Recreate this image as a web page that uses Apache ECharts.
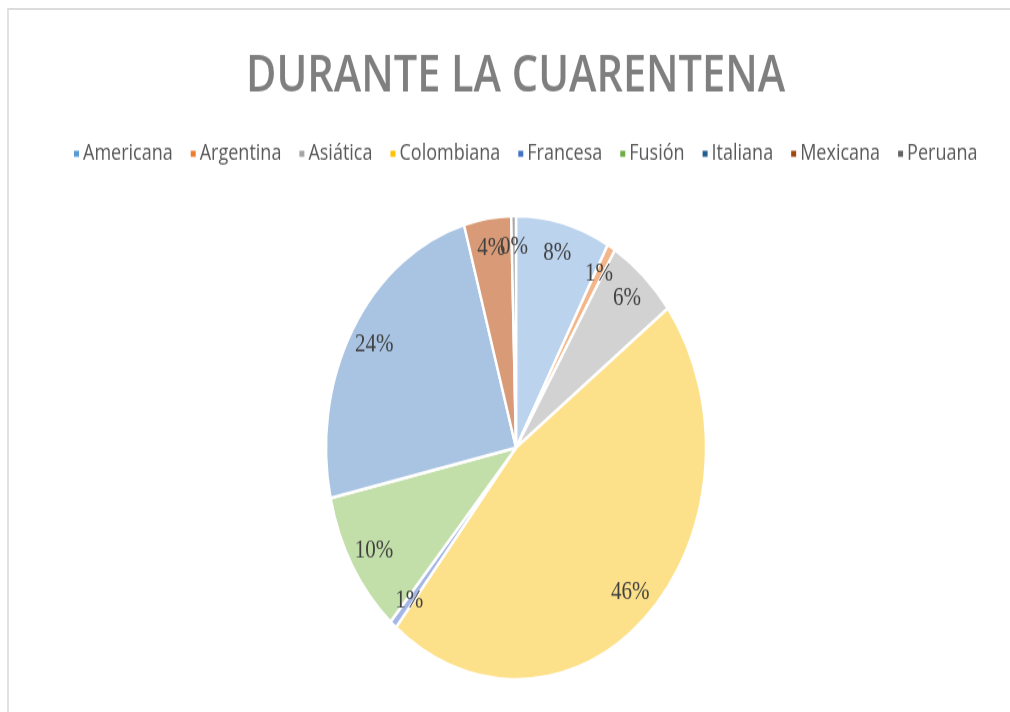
<!DOCTYPE html>
<html>
<head>
<meta charset="utf-8">
<script src="https://cdn.jsdelivr.net/npm/echarts@6/dist/echarts.min.js"></script>
<style>
  html, body { margin: 0; padding: 0; background: #fff; }
  #frame { position: absolute; left: 7px; top: 8px; width: 1010px; height: 720px; z-index: 2;
           border-top: 2px solid #dcdcdc; border-left: 2px solid #e2e2e2; box-sizing: border-box; pointer-events: none; }
  #chart { position: absolute; left: 0; top: 0; width: 1010px; height: 584px;
           transform: scaleY(1.22); transform-origin: 0 0; }
</style>
</head>
<body>
<div id="frame"></div>
<div id="chart"></div>
<script>
  // datos (porcentajes)
  let categorias = ["Americana", "Argentina", "Asiática", "Colombiana", "Francesa", "Fusión", "Italiana", "Mexicana", "Peruana"];
  let valores = [8, 0.7, 6, 46, 0.6, 10, 24, 4, 0.4];
  let coloresLeyenda = ["#5b9bd5", "#ed7d31", "#a5a5a5", "#ffc000", "#4472c4", "#70ad47", "#255e91", "#9e480e", "#636363"];
  let coloresTrama = ["#bcd3ee", "#f3b68a", "#d2d2d2", "#fde18a", "#a3b6e6", "#c2dea9", "#a9c3e2", "#d99b77", "#a8a8a8"];

  let myChart = echarts.init(document.getElementById("chart"));

  let datos = categorias.map(function(nombre, i) {
    return { name: nombre, value: valores[i], itemStyle: { color: coloresTrama[i] } };
  });
  let datosEtiqueta = categorias.map(function(nombre, i) {
    return { name: nombre, value: valores[i] };
  });

  let option = {
    backgroundColor: "#fff",
    animation: false,
    title: {
      text: "DURANTE LA CUARENTENA",
      left: 241,
      top: 37,
      textStyle: {
        color: "#7f7f7f",
        fontFamily: "Open Sans",
        fontWeight: 600,
        fontSize: 41.5
      }
    },
    legend: {
      data: categorias.map(function(nombre, i) {
        return { name: nombre, itemStyle: { color: coloresLeyenda[i] } };
      }),
      left: 67,
      top: 112,
      icon: "rect",
      itemWidth: 7,
      itemHeight: 7,
      itemGap: 16,
      textStyle: {
        color: "#595959",
        fontFamily: "Open Sans",
        fontSize: 18,
        padding: [0, 0, 0, -2]
      }
    },
    series: [
      {
        type: "pie",
        center: [516, 367],
        radius: [0, 190],
        startAngle: 90,
        clockwise: true,
        label: { show: false },
        labelLine: { show: false },
        itemStyle: { borderColor: "#fff", borderWidth: 2.5 },
        emphasis: { disabled: true },
        data: datos
      },
      {
        type: "pie",
        center: [516, 367],
        radius: [130, 194],
        startAngle: 90,
        clockwise: true,
        silent: true,
        avoidLabelOverlap: false,
        labelLayout: { hideOverlap: false },
        itemStyle: { color: "rgba(0,0,0,0)" },
        label: {
          show: true,
          position: "inside",
          color: "#404040",
          fontFamily: "Liberation Serif",
          fontSize: 21,
          formatter: function(p) {
            return Math.round(p.percent) + "%";
          }
        },
        labelLine: { show: false },
        emphasis: { disabled: true },
        data: datosEtiqueta
      }
    ]
  };

  myChart.setOption(option, true);
</script>
</body>
</html>
